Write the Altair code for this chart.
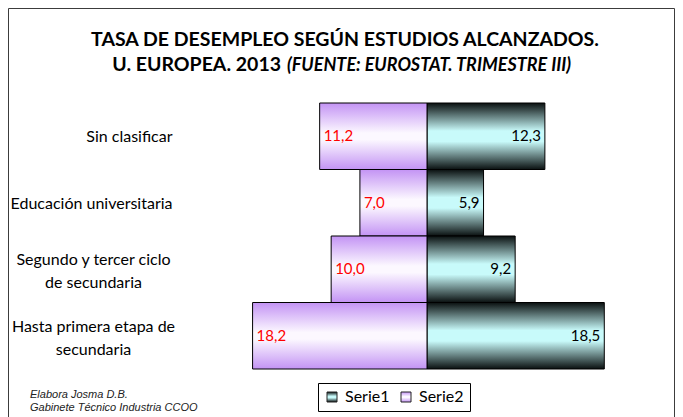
import altair as alt
import pandas as pd

categories = ["Sin clasificar", "Educación universitaria",
              "Segundo y tercer ciclo\nde secundaria", "Hasta primera etapa de\nsecundaria"]
serie1 = [12.3, 5.9, 9.2, 18.5]
serie2 = [11.2, 7.0, 10.0, 18.2]
series_names = ["Serie1", "Serie2"]

title_line1 = "TASA DE DESEMPLEO SEGÚN ESTUDIOS ALCANZADOS."
title_line2a = "U. EUROPEA. 2013"
title_line2b = "(FUENTE: EUROSTAT. TRIMESTRE III)"
foot1 = "Elabora Josma D.B."
foot2 = "Gabinete Técnico Industria CCOO"

rows = []
for c, a, b in zip(categories, serie1, serie2):
    rows.append({"cat": c, "serie": series_names[0], "value": a})
    rows.append({"cat": c, "serie": series_names[1], "value": b})
df = pd.DataFrame(rows)

FONT = "Lato"
W, H = 460, 266

grad1 = ("{gradient: 'linear', x1: 0, y1: 0, x2: 0, y2: 1, stops: ["
         "{offset: 0, color: '#0a1010'}, {offset: 0.42, color: '#c8fafa'}, "
         "{offset: 0.58, color: '#c8fafa'}, {offset: 1, color: '#0a1010'}]}")
grad2 = ("{gradient: 'linear', x1: 0, y1: 0, x2: 0, y2: 1, stops: ["
         "{offset: 0, color: '#c393f4'}, {offset: 0.45, color: '#fcf8ff'}, "
         "{offset: 0.55, color: '#fcf8ff'}, {offset: 1, color: '#c393f4'}]}")

base = alt.Chart(df).transform_calculate(
    xv="datum.serie == 'Serie2' ? -datum.value : datum.value",
    lbl="replace(format(datum.value, '.1f'), '.', ',')",
)

multi_test = "indexof(datum.value, '\\n') >= 0"
y = alt.Y(
    "cat:N", sort=categories, title=None,
    scale=alt.Scale(paddingInner=0, paddingOuter=0),
    axis=alt.Axis(
        domain=False, ticks=False, tickSize=0, grid=False,
        labelExpr="split(datum.value, '\\n')",
        labelAlign={"condition": {"test": multi_test, "value": "center"}, "value": "right"},
        labelPadding={"condition": {"test": multi_test, "value": 104}, "value": 25},
        labelOffset={"condition": {"test": multi_test, "value": -9}, "value": 1},
        labelBaseline="middle", labelFont=FONT, labelFontSize=16,
        labelColor="black", labelLineHeight=23, labelLimit=0,
    ),
)
x = alt.X("xv:Q", scale=alt.Scale(domain=[-24, 24], nice=False, zero=True), axis=None)

bars = base.mark_bar(stroke="black", strokeWidth=1).encode(
    x=x, y=y,
    color=alt.Color(
        "serie:N",
        scale=alt.Scale(domain=series_names, range=[{"expr": grad1}, {"expr": grad2}]),
        legend=alt.Legend(
            orient="none", legendX=121, legendY=280, direction="horizontal",
            title=None, strokeColor="black", padding=6, fillColor="white",
            labelFont=FONT, labelFontSize=16, labelColor="black",
            symbolType="square", symbolSize=100, symbolStrokeColor="#222",
            symbolStrokeWidth=1, columnPadding=8, labelOffset=5, cornerRadius=0,
        ),
    ),
)

t1 = base.transform_filter("datum.serie == 'Serie1'").mark_text(
    align="right", baseline="middle", dx=-4, font=FONT, fontSize=15, color="black"
).encode(x=x, y=y, text="lbl:N")
t2 = base.transform_filter("datum.serie == 'Serie2'").mark_text(
    align="left", baseline="middle", dx=4, font=FONT, fontSize=15, color="#ff0000"
).encode(x=x, y=y, text="lbl:N")

one = alt.Data(values=[{}])

def label(txt, px, py, **kw):
    return alt.Chart(one).mark_text(baseline="alphabetic", **kw).encode(
        x=alt.value(px), y=alt.value(py), text=alt.value(txt))

title1 = label(title_line1, 148, -57, align="center", font=FONT, fontSize=19.5,
               fontWeight="bold", color="black")
title2a = label(title_line2a, 84, -32, align="right", font=FONT, fontSize=19.5,
                fontWeight="bold", color="black")
title2b = label(title_line2b, 90, -32, align="left", font=FONT, fontSize=18,
                fontWeight="bold", fontStyle="italic", color="black")
f1 = label(foot1, -167, 295, align="left", font="Liberation Sans", fontSize=11,
           fontStyle="italic", color="#222")
f2 = label(foot2, -167, 307.5, align="left", font="Liberation Sans", fontSize=11,
           fontStyle="italic", color="#222")

frame = alt.Chart(one).mark_rect(fillOpacity=0, stroke="#3c3c3c", strokeWidth=1).encode(
    x=alt.value(-188.5), x2=alt.value(477.5), y=alt.value(-94.5), y2=alt.value(340))

chart = alt.layer(frame, bars, t1, t2, title1, title2a, title2b, f1, f2).properties(
    width=W, height=H,
    autosize=alt.AutoSizeParams(type="none"),
    padding={"left": 189, "top": 95, "right": 18, "bottom": 48},
    background="white",
).configure_view(strokeWidth=0)

chart.save("out.html", embed_options={"renderer": "svg", "actions": False})
